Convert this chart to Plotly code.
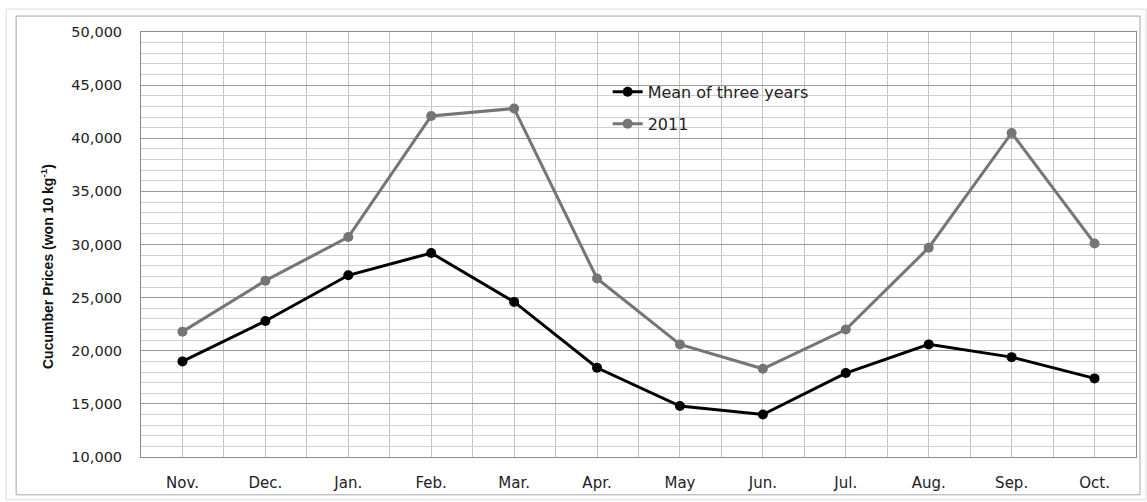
import plotly.graph_objects as go

months = ["Nov.", "Dec.", "Jan.", "Feb.", "Mar.", "Apr.", "May", "Jun.", "Jul.", "Aug.", "Sep.", "Oct."]
mean_three_years = [19000, 22800, 27100, 29200, 24600, 18400, 14800, 14000, 17900, 20600, 19400, 17400]
y2011 = [21800, 26600, 30700, 42100, 42800, 26800, 20600, 18300, 22000, 29700, 40500, 30100]

xpos = list(range(len(months)))

fig = go.Figure()
fig.add_trace(go.Scatter(
    x=xpos, y=mean_three_years, name="Mean of three years", mode="lines+markers",
    line=dict(color="#000000", width=3), marker=dict(color="#000000", size=10),
    legendgroup="a"))
fig.add_trace(go.Scatter(
    x=xpos, y=y2011, name="2011", mode="lines+markers",
    line=dict(color="#757575", width=3), marker=dict(color="#757575", size=10),
    legendgroup="b"))

font_main = "DejaVu Sans, Verdana, sans-serif"

fig.update_layout(
    width=1147, height=502,
    margin=dict(l=141, r=10, t=32, b=43),
    paper_bgcolor="white", plot_bgcolor="white",
    showlegend=True,
    legend=dict(x=0.469, y=0.899, xanchor="left", yanchor="top",
                bgcolor="rgba(0,0,0,0)", font=dict(family=font_main, size=16, color="#222"),
                tracegroupgap=8, traceorder="grouped", itemwidth=30),
    font=dict(family=font_main, size=14, color="#222"),
)

fig.update_xaxes(
    range=[-0.5, 11.5], tickmode="array", tickvals=xpos, ticktext=months,
    showgrid=True, gridcolor="#c4c4c4", gridwidth=1,
    minor=dict(tickmode="array", tickvals=[i - 0.5 for i in range(13)], showgrid=True,
               gridcolor="#c4c4c4", gridwidth=1),
    showline=True, linecolor="#8c8c8c", linewidth=1, mirror=True,
    ticks="", ticklabelstandoff=12, zeroline=False,
    tickfont=dict(family=font_main, size=15, color="#222"),
)
fig.update_yaxes(
    range=[10000, 50000], dtick=5000, tickformat=",",
    showgrid=True, gridcolor="#9a9a9a", gridwidth=1,
    minor=dict(dtick=1000, showgrid=True, gridcolor="#cfcfcf", gridwidth=1),
    showline=True, linecolor="#8c8c8c", linewidth=1, mirror=True,
    ticks="", ticklabelstandoff=15, zeroline=False,
    tickfont=dict(family=font_main, size=14.5, color="#222"),
)

# y-axis title (placed as in the reference, slightly below plot centre)
fig.add_annotation(
    xref="paper", yref="paper", x=(47 - 141) / 996, y=(459 - 268) / 427,
    text="Cucumber Prices (won 10 kg<sup>-1</sup>)", textangle=-90, showarrow=False,
    xanchor="center", yanchor="middle",
    font=dict(family="Liberation Sans Narrow, Arial Narrow, Liberation Sans", size=14,
              color="#111", weight="bold"))

# faint spreadsheet cells behind the chart
fig.add_shape(type="rect", xref="paper", yref="paper",
              x0=(6 - 141) / 996, x1=(1147 - 141) / 996, y0=(459 - 502) / 427, y1=(459 - 9) / 427,
              line=dict(color="#dcdcdc", width=1), fillcolor="rgba(0,0,0,0)", layer="below")
# chart-area frame (Excel-style border)
fig.add_shape(type="rect", xref="paper", yref="paper",
              x0=(16 - 141) / 996, x1=(1141 - 141) / 996, y0=(459 - 497) / 427, y1=(459 - 16) / 427,
              line=dict(color="#a6a6a6", width=1), fillcolor="white", layer="below")

fig.write_html("out.html")
